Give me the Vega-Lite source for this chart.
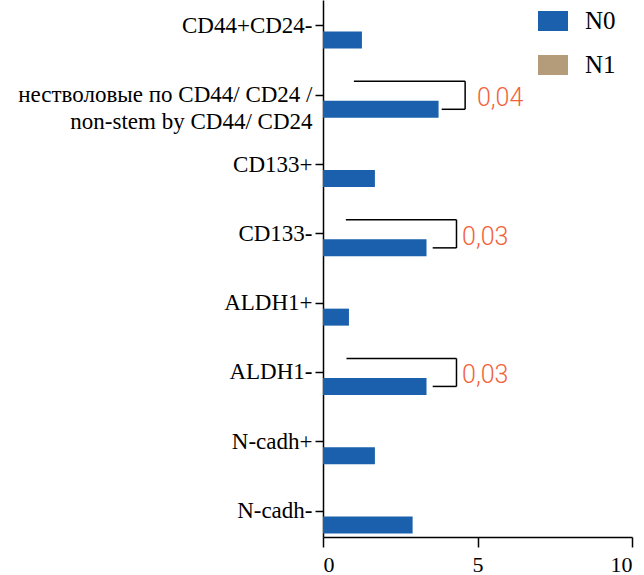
{
  "$schema": "https://vega.github.io/schema/vega-lite/v6.json",
  "width": 309,
  "height": 537,
  "autosize": "none",
  "padding": {"left": 323, "top": 0, "right": 12, "bottom": 38},
  "background": "white",
  "config": {
    "view": {"stroke": null},
    "axis": {"grid": false, "title": null, "domainColor": "#000", "domainWidth": 1.5, "tickColor": "#000", "tickWidth": 1.5, "labelColor": "#000", "labelFont": "Liberation Serif", "labelFontSize": 23}
  },
  "encoding": {
    "y": {
      "field": "cat",
      "type": "nominal",
      "sort": ["CD44+CD24-", "нестволовые по CD44/ CD24 /\nnon-stem by CD44/ CD24", "CD133+", "CD133-", "ALDH1+", "ALDH1-", "N-cadh+", "N-cadh-"],
      "scale": {"paddingInner": 0.2495, "paddingOuter": 0},
      "axis": {"tickSize": 8, "labelPadding": 3, "labelLimit": 0, "labelLineHeight": 27, "labelExpr": "split(datum.label, '\\n')"}
    }
  },
  "layer": [
    {
      "data": {"values": [
        {"cat": "CD44+CD24-", "grp": "N0", "val": 1.26},
        {"cat": "нестволовые по CD44/ CD24 /\nnon-stem by CD44/ CD24", "grp": "N0", "val": 3.74},
        {"cat": "CD133+", "grp": "N0", "val": 1.68},
        {"cat": "CD133-", "grp": "N0", "val": 3.35},
        {"cat": "ALDH1+", "grp": "N0", "val": 0.84},
        {"cat": "ALDH1-", "grp": "N0", "val": 3.35},
        {"cat": "N-cadh+", "grp": "N0", "val": 1.68},
        {"cat": "N-cadh-", "grp": "N0", "val": 2.9},
        {"cat": "CD44+CD24-", "grp": "N1", "val": 0},
        {"cat": "нестволовые по CD44/ CD24 /\nnon-stem by CD44/ CD24", "grp": "N1", "val": 0},
        {"cat": "CD133+", "grp": "N1", "val": 0},
        {"cat": "CD133-", "grp": "N1", "val": 0},
        {"cat": "ALDH1+", "grp": "N1", "val": 0},
        {"cat": "ALDH1-", "grp": "N1", "val": 0},
        {"cat": "N-cadh+", "grp": "N1", "val": 0},
        {"cat": "N-cadh-", "grp": "N1", "val": 0}
      ]},
      "mark": {"type": "bar"},
      "encoding": {
        "yOffset": {"field": "grp", "type": "nominal", "scale": {"domain": ["N1", "N0"], "paddingInner": 0.393, "paddingOuter": 0.125}},
        "x": {"field": "val", "type": "quantitative", "scale": {"domain": [0, 10], "nice": false}, "axis": {"values": [0, 5, 10], "tickSize": 10, "labelPadding": 7, "labelFontSize": 22}},
        "color": {"field": "grp", "type": "nominal", "scale": {"domain": ["N0", "N1"], "range": ["#1b60ad", "#b49c7b"]},
          "legend": {"title": null, "orient": "none", "legendX": 215, "legendY": 6, "padding": 0, "symbolType": "M-1,-0.667H1V0.667H-1Z", "symbolSize": 900, "symbolStrokeWidth": 0, "labelFont": "Liberation Serif", "labelFontSize": 25, "labelColor": "#000", "labelOffset": 17, "rowPadding": 16}}
      }
    },
    {
      "data": {"values": [
        {"cat": "нестволовые по CD44/ CD24 /\nnon-stem by CD44/ CD24", "grp": "N1", "x1": 1.0, "x2": 4.6},
        {"cat": "нестволовые по CD44/ CD24 /\nnon-stem by CD44/ CD24", "grp": "N0", "x1": 3.84, "x2": 4.6},
        {"cat": "CD133-", "grp": "N1", "x1": 0.74, "x2": 4.32},
        {"cat": "CD133-", "grp": "N0", "x1": 3.55, "x2": 4.32},
        {"cat": "ALDH1-", "grp": "N1", "x1": 0.76, "x2": 4.32},
        {"cat": "ALDH1-", "grp": "N0", "x1": 3.55, "x2": 4.32}
      ]},
      "mark": {"type": "rule", "color": "#000", "strokeWidth": 1.5},
      "encoding": {
        "yOffset": {"field": "grp", "type": "nominal", "scale": {"domain": ["N1", "N0"], "paddingInner": 0.393, "paddingOuter": 0.125}},
        "x": {"field": "x1", "type": "quantitative"},
        "x2": {"field": "x2"}
      }
    },
    {
      "data": {"values": [
        {"cat": "нестволовые по CD44/ CD24 /\nnon-stem by CD44/ CD24", "xv": 4.6},
        {"cat": "CD133-", "xv": 4.32},
        {"cat": "ALDH1-", "xv": 4.32}
      ]},
      "mark": {"type": "bar", "height": {"band": 0.54}, "fill": null, "fillOpacity": 0, "stroke": "#000", "strokeWidth": 1.5},
      "encoding": {
        "x": {"field": "xv", "type": "quantitative"},
        "x2": {"field": "xv"}
      }
    },
    {
      "data": {"values": [
        {"cat": "нестволовые по CD44/ CD24 /\nnon-stem by CD44/ CD24", "tx": 4.98, "p": "0,04"},
        {"cat": "CD133-", "tx": 4.5, "p": "0,03"},
        {"cat": "ALDH1-", "tx": 4.5, "p": "0,03"}
      ]},
      "mark": {"type": "text", "align": "left", "baseline": "middle", "dy": 3, "font": "Roboto", "fontWeight": 300, "fontSize": 25, "color": "#f2623a"},
      "encoding": {
        "x": {"field": "tx", "type": "quantitative"},
        "text": {"field": "p"}
      }
    }
  ]
}
